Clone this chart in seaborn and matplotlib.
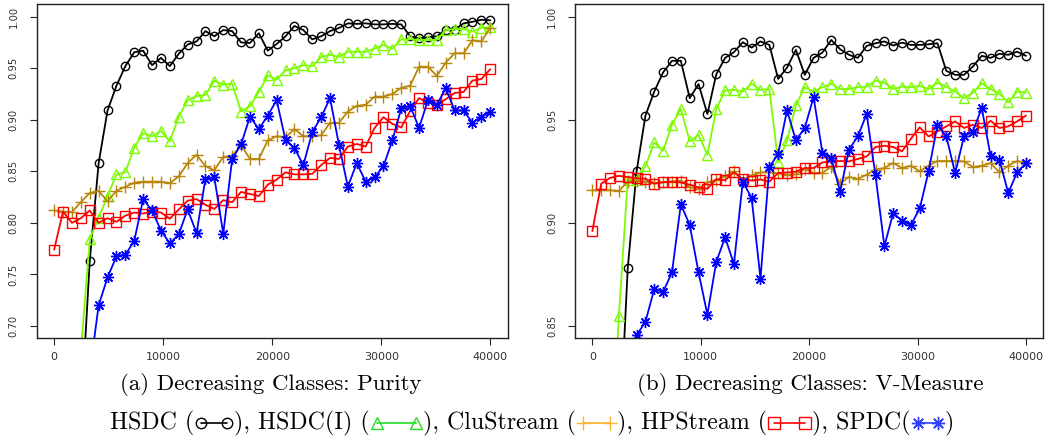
import numpy as np
import pandas as pd
import matplotlib
matplotlib.use("Agg")
import matplotlib.pyplot as plt
from matplotlib.lines import Line2D
import seaborn as sns

# stream position (number of points seen)
x_points = [0, 816, 1633, 2449, 3265, 4082, 4898, 5714, 6531, 7347,
            8163, 8980, 9796, 10612, 11429, 12245, 13061, 13878, 14694, 15510,
            16327, 17143, 17959, 18776, 19592, 20408, 21224, 22041, 22857, 23673,
            24490, 25306, 26122, 26939, 27755, 28571, 29388, 30204, 31020, 31837,
            32653, 33469, 34286, 35102, 35918, 36735, 37551, 38367, 39184, 40000]

# (a) purity
purity_hsdc = [0.30, 0.40, 0.50, 0.61, 0.763, 0.858, 0.909, 0.933, 0.952, 0.9655,
               0.967, 0.953, 0.960, 0.952, 0.964, 0.973, 0.976, 0.986, 0.981, 0.987,
               0.986, 0.975, 0.9745, 0.984, 0.967, 0.9735, 0.981, 0.991, 0.987, 0.978,
               0.981, 0.986, 0.989, 0.9935, 0.993, 0.9935, 0.9925, 0.9925, 0.993, 0.9925,
               0.981, 0.979, 0.980, 0.981, 0.987, 0.9875, 0.9935, 0.995, 0.997, 0.9965]
purity_hsdc_i = [0.45, 0.55, 0.62, 0.675, 0.784, 0.805, 0.826, 0.847, 0.849, 0.873,
                 0.887, 0.884, 0.889, 0.879, 0.903, 0.919, 0.923, 0.924, 0.938, 0.934,
                 0.935, 0.908, 0.913, 0.927, 0.943, 0.939, 0.948, 0.950, 0.953, 0.952,
                 0.961, 0.963, 0.961, 0.966, 0.966, 0.966, 0.969, 0.9725, 0.969, 0.978,
                 0.978, 0.9775, 0.9775, 0.9775, 0.987, 0.988, 0.988, 0.9855, 0.989, 0.990]
purity_clustream = [0.812, 0.811, 0.8105, 0.820, 0.829, 0.831, 0.821, 0.831, 0.835, 0.839,
                    0.840, 0.840, 0.840, 0.8385, 0.845, 0.858, 0.866, 0.855, 0.851, 0.864,
                    0.865, 0.8755, 0.862, 0.862, 0.880, 0.884, 0.883, 0.891, 0.884, 0.884,
                    0.885, 0.897, 0.897, 0.908, 0.9135, 0.9145, 0.9225, 0.9225, 0.925, 0.931,
                    0.933, 0.9515, 0.9515, 0.9425, 0.9555, 0.9645, 0.9645, 0.977, 0.976, 0.989]
purity_hpstream = [0.774, 0.811, 0.800, 0.8045, 0.812, 0.800, 0.8045, 0.801, 0.807, 0.810,
                   0.809, 0.811, 0.810, 0.804, 0.813, 0.8215, 0.823, 0.8175, 0.8135, 0.822,
                   0.820, 0.830, 0.828, 0.826, 0.837, 0.842, 0.849, 0.847, 0.847, 0.8475,
                   0.856, 0.863, 0.862, 0.874, 0.8765, 0.874, 0.892, 0.9025, 0.896, 0.8925,
                   0.9085, 0.921, 0.9165, 0.9145, 0.920, 0.926, 0.927, 0.938, 0.9395, 0.949]
purity_spdc = [0.40, 0.48, 0.55, 0.61, 0.655, 0.720, 0.747, 0.7675, 0.769, 0.7825,
               0.823, 0.812, 0.7925, 0.780, 0.789, 0.813, 0.790, 0.843, 0.844, 0.7895,
               0.862, 0.876, 0.903, 0.891, 0.904, 0.919, 0.880, 0.8725, 0.856, 0.888,
               0.9025, 0.921, 0.8757, 0.835, 0.858, 0.840, 0.844, 0.855, 0.880, 0.911,
               0.9135, 0.892, 0.919, 0.9145, 0.9305, 0.909, 0.909, 0.897, 0.9025, 0.908]

# (b) v-measure
vm_hsdc = [0.60, 0.68, 0.74, 0.79, 0.878, 0.925, 0.952, 0.9637, 0.973, 0.9786,
           0.9786, 0.9605, 0.9673, 0.9528, 0.972, 0.980, 0.9828, 0.9876, 0.985, 0.988,
           0.9863, 0.9698, 0.9753, 0.9839, 0.9718, 0.980, 0.9826, 0.9887, 0.9842, 0.9815,
           0.980, 0.9858, 0.9871, 0.988, 0.986, 0.9874, 0.9863, 0.9863, 0.9866, 0.9871,
           0.9737, 0.9718, 0.9718, 0.9758, 0.981, 0.980, 0.982, 0.9815, 0.983, 0.981]
vm_hsdc_i = [0.65, 0.72, 0.78, 0.855, 0.921, 0.921, 0.9274, 0.939, 0.935, 0.9476,
             0.9553, 0.9395, 0.9427, 0.933, 0.9552, 0.9642, 0.9645, 0.9637, 0.9674, 0.9645,
             0.9649, 0.9293, 0.940, 0.957, 0.9658, 0.9637, 0.9658, 0.9674, 0.9649, 0.9649,
             0.9658, 0.966, 0.969, 0.968, 0.9649, 0.9661, 0.9658, 0.9664, 0.9649, 0.968,
             0.966, 0.9637, 0.9605, 0.963, 0.9677, 0.9649, 0.9626, 0.9584, 0.9637, 0.9632]
vm_clustream = [0.9158, 0.9158, 0.9158, 0.9155, 0.920, 0.9205, 0.920, 0.9194, 0.9198, 0.920,
                0.9205, 0.9172, 0.9165, 0.9196, 0.9208, 0.9226, 0.925, 0.921, 0.923, 0.9245,
                0.9245, 0.924, 0.9232, 0.9236, 0.926, 0.9242, 0.9242, 0.9272, 0.919, 0.9223,
                0.9213, 0.9234, 0.9258, 0.9266, 0.929, 0.9266, 0.9277, 0.925, 0.9277, 0.930,
                0.930, 0.930, 0.9298, 0.9271, 0.9277, 0.929, 0.9245, 0.9277, 0.930, 0.929]
vm_hpstream = [0.896, 0.919, 0.9218, 0.9228, 0.9222, 0.9216, 0.9214, 0.919, 0.9197, 0.920,
               0.9196, 0.9185, 0.9172, 0.9165, 0.9212, 0.9207, 0.9245, 0.9212, 0.9205, 0.921,
               0.920, 0.9242, 0.9244, 0.9248, 0.9266, 0.9266, 0.9293, 0.9298, 0.930, 0.9298,
               0.931, 0.9322, 0.9368, 0.9374, 0.9368, 0.9347, 0.9408, 0.9463, 0.9419, 0.9443,
               0.9468, 0.9492, 0.946, 0.9476, 0.946, 0.9495, 0.946, 0.9468, 0.9492, 0.952]
vm_spdc = [0.70, 0.74, 0.77, 0.80, 0.825, 0.8455, 0.852, 0.868, 0.8665, 0.876,
           0.909, 0.899, 0.876, 0.8555, 0.881, 0.893, 0.880, 0.920, 0.912, 0.873,
           0.927, 0.9335, 0.9546, 0.940, 0.946, 0.961, 0.934, 0.9315, 0.915, 0.9355,
           0.942, 0.9528, 0.923, 0.8887, 0.9048, 0.901, 0.899, 0.907, 0.925, 0.9476,
           0.942, 0.924, 0.942, 0.9443, 0.9557, 0.9326, 0.9306, 0.9145, 0.9245, 0.929]

methods = ["HSDC", "HSDC(I)", "CluStream", "HPStream", "SPDC"]
colors = {"HSDC": "black", "HSDC(I)": "#7CFC00", "CluStream": "#B8860B",
          "HPStream": "#FF0000", "SPDC": "#0000FF"}
legend_colors = {"HSDC": "black", "HSDC(I)": "#22DD22", "CluStream": "#FFB22E",
                 "HPStream": "#FF0000", "SPDC": "#3040FF"}
markers = {"HSDC": "o", "HSDC(I)": "^", "CluStream": "+", "HPStream": "s", "SPDC": (8, 2, 0)}
msizes = {"HSDC": 6, "HSDC(I)": 7.5, "CluStream": 9, "HPStream": 6.5, "SPDC": 8}


def long_table(series):
    frames = []
    for m, vals in zip(methods, series):
        frames.append(pd.DataFrame({"x": x_points, "value": vals, "method": m}))
    return pd.concat(frames, ignore_index=True)


purity = long_table([purity_hsdc, purity_hsdc_i, purity_clustream, purity_hpstream, purity_spdc])
vmeasure = long_table([vm_hsdc, vm_hsdc_i, vm_clustream, vm_hpstream, vm_spdc])

sns.set_style("white")
plt.rcParams["font.family"] = ["DejaVu Sans"]

W, H = 1049, 442
fig = plt.figure(figsize=(W / 100, H / 100), dpi=100)
ax_a = fig.add_axes([36.7 / W, 1 - 338.3 / H, 471 / W, 334 / H])
ax_b = fig.add_axes([575 / W, 1 - 338.3 / H, 468.3 / W, 334 / H])


def draw_panel(ax, df, ylim, yticks):
    for m in methods:
        sub = df[df["method"] == m]
        sns.lineplot(data=sub, x="x", y="value", ax=ax, color=colors[m],
                     marker=markers[m], markersize=msizes[m], mfc="none",
                     mec=colors[m], mew=1.0, linewidth=1.3, errorbar=None,
                     legend=False, sort=False)
    ax.set_xlim(-1600, 41600)
    ax.set_ylim(*ylim)
    ax.set_xticks([0, 10000, 20000, 30000, 40000])
    ax.set_xticklabels(["0", "10000", "20000", "30000", "40000"], fontsize=8, color="#333333")
    ax.set_yticks(yticks)
    ax.set_yticklabels(["%.2f" % t for t in yticks], fontsize=7.2, color="#333333",
                       rotation=90, va="center")
    ax.set_xlabel("")
    ax.set_ylabel("")
    ax.tick_params(axis="x", direction="out", length=5, width=0.8, pad=5, bottom=True)
    ax.tick_params(axis="y", direction="out", length=5, width=0.8, pad=8, left=True)
    for s in ax.spines.values():
        s.set_color("#222222")
        s.set_linewidth(1.0)
    ax.grid(False)


draw_panel(ax_a, purity, (0.688, 1.012), [0.70, 0.75, 0.80, 0.85, 0.90, 0.95, 1.00])
draw_panel(ax_b, vmeasure, (0.844, 1.006), [0.85, 0.90, 0.95, 1.00])

cap_font = dict(family="cmr10", fontsize=16.5, color="black")
fig.text(271 / W, 1 - 384 / H, "(a) Decreasing Classes: Purity", ha="center", va="center", **cap_font)
fig.text(810 / W, 1 - 384 / H, "(b) Decreasing Classes: V-Measure", ha="center", va="center", **cap_font)

# legend row: text pieces with small line/marker samples in between
leg_font = dict(family="cmr10", fontsize=17.2, color="black")
pieces = ["HSDC (", "HSDC", "), HSDC(I) (", "HSDC(I)", "), CluStream (", "CluStream",
          "), HPStream (", "HPStream", "), SPDC(", "SPDC", ")"]
sym_w = {"HSDC": 40, "HSDC(I)": 53, "CluStream": 41, "HPStream": 45, "SPDC": 34}
row_y = 423
renderer = fig.canvas.get_renderer()
widths = []
for i, p in enumerate(pieces):
    if i % 2 == 1:
        widths.append(sym_w[p])
    else:
        t = fig.text(0, 0, p, **leg_font)
        widths.append(t.get_window_extent(renderer).width)
        t.remove()
xpos = 532 - sum(widths) / 2
for i, p in enumerate(pieces):
    if i % 2 == 1:
        x0, x1 = xpos + 7, xpos + widths[i] - 7
        c = legend_colors[p]
        fig.add_artist(Line2D([x0 / W, x1 / W], [1 - row_y / H, 1 - row_y / H],
                              transform=fig.transFigure, color=c, lw=1.2,
                              marker=markers[p], markersize=msizes[p] + 1.5, mfc="none",
                              mec=c, mew=1.0))
    else:
        fig.text(xpos / W, 1 - row_y / H, p, ha="left", va="center", **leg_font)
    xpos += widths[i]

fig.savefig("out.png", dpi=100)
